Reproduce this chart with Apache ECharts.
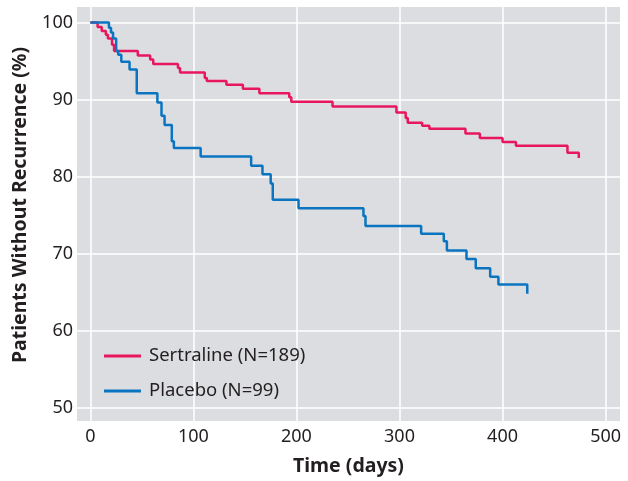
<!DOCTYPE html>
<html>
<head>
<meta charset="utf-8"/>
<title>Patients Without Recurrence</title>
<script src="https://cdn.jsdelivr.net/npm/echarts@6/dist/echarts.min.js"></script>
<style>
    html, body { margin: 0; padding: 0; background: #fff; }
    #chart { width: 628px; height: 481px; }
</style>
</head>
<body>
<div id="chart"></div>
<script>
    // step points: day, percent
    var sertralineDays = [0, 7, 11, 15, 17, 21, 23, 46, 58, 61, 85, 87, 111, 113, 132, 148, 164, 193, 195, 235, 297, 306, 308, 322, 329, 364, 378, 400, 413, 463, 474];
    var sertralinePct  = [100, 99.4, 98.9, 98.4, 97.9, 97.1, 96.3, 95.7, 95.2, 94.6, 94.1, 93.5, 92.8, 92.4, 91.9, 91.4, 90.8, 90.3, 89.7, 89.1, 88.3, 87.6, 87.0, 86.6, 86.2, 85.6, 85.0, 84.5, 84.0, 83.1, 82.4];
    var placeboDays = [0, 18, 20, 22, 25, 27, 30, 38, 45, 65, 69, 72, 79, 81, 107, 156, 167, 175, 177, 202, 265, 267, 321, 343, 346, 365, 374, 388, 396, 424];
    var placeboPct  = [100, 99.3, 98.7, 97.9, 96.3, 95.8, 94.9, 93.9, 90.8, 89.6, 87.9, 86.7, 84.6, 83.7, 82.6, 81.4, 80.3, 79.1, 77.0, 75.9, 74.9, 73.6, 72.6, 71.6, 70.4, 69.3, 68.1, 67.0, 66.0, 64.8];
    var xTicks = [0, 100, 200, 300, 400, 500];
    var yTicks = [50, 60, 70, 80, 90, 100];

    function pairs(xs, ys) {
        var out = [];
        for (var i = 0; i < xs.length; i++) {
            out.push([xs[i], ys[i]]);
        }
        return out;
    }

    var font = 'Noto Sans';
    var myChart = echarts.init(document.getElementById('chart'));
    var option = {
        animation: false,
        textStyle: { fontFamily: font, color: '#231f20' },
        grid: {
            left: 77, right: 8, top: 7, bottom: 56,
            show: true, backgroundColor: '#dcdde0', borderWidth: 0
        },
        legend: {
            orient: 'vertical',
            left: 104,
            top: 346,
            padding: 0,
            itemWidth: 37,
            itemHeight: 3,
            itemGap: 15,
            icon: 'rect',
            textStyle: { fontFamily: font, fontSize: 18.5, color: '#231f20', lineHeight: 20, padding: [0, 0, 0, 3] },
            data: ['Sertraline (N=189)', 'Placebo (N=99)']
        },
        xAxis: {
            type: 'value',
            min: -13,
            max: 514,
            name: 'Time (days)',
            nameLocation: 'middle',
            nameGap: 35,
            nameTextStyle: { fontFamily: font, fontSize: 19.5, fontWeight: 'bold', color: '#231f20' },
            axisLine: { show: false },
            axisTick: { show: false, customValues: xTicks },
            axisLabel: { customValues: xTicks, fontSize: 18, color: '#231f20', margin: 7 },
            splitLine: { show: true, lineStyle: { color: '#ffffff', width: 1.5 } }
        },
        yAxis: {
            type: 'value',
            min: 48.3,
            max: 102,
            name: 'Patients Without Recurrence (%)',
            nameLocation: 'middle',
            nameGap: 47,
            nameTextStyle: { fontFamily: font, fontSize: 19.5, fontWeight: 'bold', color: '#231f20', padding: [0, 0, 0, 18] },
            axisLine: { show: false },
            axisTick: { show: false, customValues: yTicks },
            axisLabel: { customValues: yTicks, fontSize: 18, color: '#231f20', margin: 4 },
            splitLine: { show: true, lineStyle: { color: '#ffffff', width: 1.5 } }
        },
        series: [
            {
                name: 'Sertraline (N=189)',
                type: 'line',
                step: 'end',
                symbol: 'none',
                color: '#e8175d',
                lineStyle: { width: 2.5, color: '#e8175d' },
                data: pairs(sertralineDays, sertralinePct)
            },
            {
                name: 'Placebo (N=99)',
                type: 'line',
                step: 'end',
                symbol: 'none',
                color: '#0a74c1',
                lineStyle: { width: 2.5, color: '#0a74c1' },
                data: pairs(placeboDays, placeboPct)
            }
        ]
    };
    myChart.setOption(option);
</script>
</body>
</html>
